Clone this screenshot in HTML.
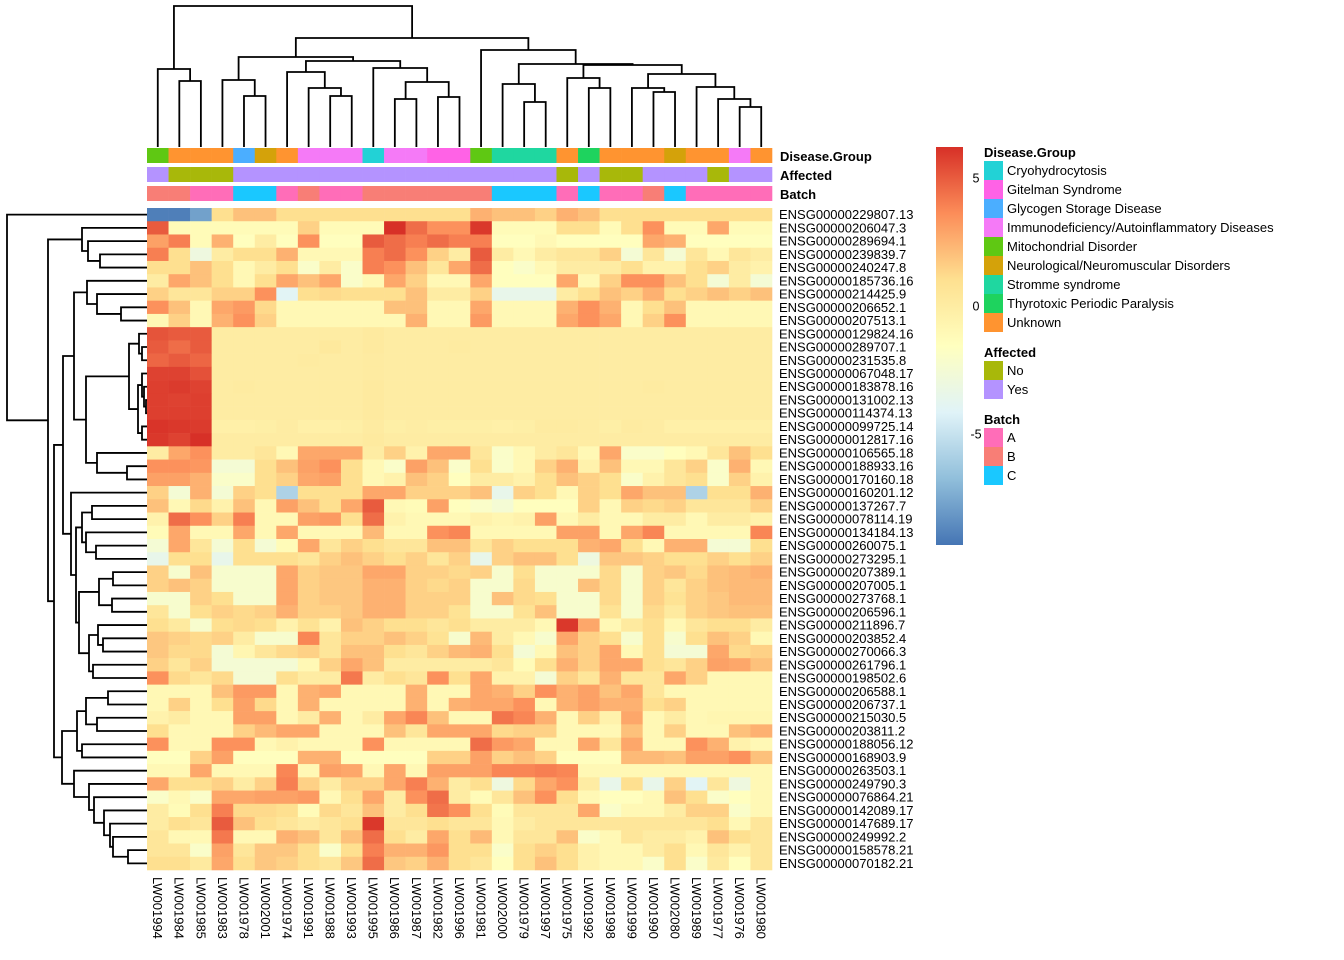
<!DOCTYPE html>
<html><head><meta charset="utf-8"><style>
html,body{margin:0;padding:0;background:#fff;}
svg{display:block;font-family:"Liberation Sans",Arial,sans-serif;}
</style></head><body>
<svg id="chart" width="1344" height="960" viewBox="0 0 1344 960" xmlns="http://www.w3.org/2000/svg">
<g id="dendro-col"></g>
<g id="dendro-row"></g>
<g id="annot"></g>
<g id="cells"></g>
<g id="rowlabels"></g>
<g id="collabels"></g>
<g id="legend"></g>
</svg>
<script>
const columns = ["LW001994","LW001984","LW001985","LW001983","LW001978","LW002001","LW001974","LW001991","LW001988","LW001993","LW001995","LW001986","LW001987","LW001982","LW001996","LW001981","LW002000","LW001979","LW001997","LW001975","LW001992","LW001998","LW001999","LW001990","LW002080","LW001989","LW001977","LW001976","LW001980"];
const genes = ["ENSG00000229807.13","ENSG00000206047.3","ENSG00000289694.1","ENSG00000239839.7","ENSG00000240247.8","ENSG00000185736.16","ENSG00000214425.9","ENSG00000206652.1","ENSG00000207513.1","ENSG00000129824.16","ENSG00000289707.1","ENSG00000231535.8","ENSG00000067048.17","ENSG00000183878.16","ENSG00000131002.13","ENSG00000114374.13","ENSG00000099725.14","ENSG00000012817.16","ENSG00000106565.18","ENSG00000188933.16","ENSG00000170160.18","ENSG00000160201.12","ENSG00000137267.7","ENSG00000078114.19","ENSG00000134184.13","ENSG00000260075.1","ENSG00000273295.1","ENSG00000207389.1","ENSG00000207005.1","ENSG00000273768.1","ENSG00000206596.1","ENSG00000211896.7","ENSG00000203852.4","ENSG00000270066.3","ENSG00000261796.1","ENSG00000198502.6","ENSG00000206588.1","ENSG00000206737.1","ENSG00000215030.5","ENSG00000203811.2","ENSG00000188056.12","ENSG00000168903.9","ENSG00000263503.1","ENSG00000249790.3","ENSG00000076864.21","ENSG00000142089.17","ENSG00000147689.17","ENSG00000249992.2","ENSG00000158578.21","ENSG00000070182.21"];
const diseaseGroup = ["Mito","Unknown","Unknown","Unknown","Glycogen","Neuro","Unknown","Immuno","Immuno","Immuno","Cryo","Immuno","Immuno","Gitelman","Gitelman","Mito","Stromme","Stromme","Stromme","Unknown","Thyro","Unknown","Unknown","Unknown","Neuro","Unknown","Unknown","Immuno","Unknown"];
const affected = ["Yes","No","No","No","Yes","Yes","Yes","Yes","Yes","Yes","Yes","Yes","Yes","Yes","Yes","Yes","Yes","Yes","Yes","No","Yes","No","No","Yes","Yes","Yes","No","Yes","Yes"];
const batch = ["B","B","A","A","C","C","A","B","A","A","B","B","B","B","B","B","C","C","C","A","C","A","A","B","C","A","A","A","A"];
const values = [
[-9,-9,-7.8,1,2,2,1,1,1,1,1,1,1,1,1,2.5,2,2,1.5,2.5,2,1,1,1,1,1,1,1,1],
[5,-1.2,-1.2,-1.2,-1.2,-1.2,-1.2,1.5,-1.2,-1.2,-1.2,6.5,4.5,3.5,3.5,6,-1.2,-1.2,-1.2,1,1,-1.2,1,3.5,-1.2,-1.2,2.8,-1.2,-1.2],
[3,4,-1.2,2.5,-1.5,0,-1.5,3.5,-1.5,-1.5,5,4.5,4,4.5,4,4,-1.5,-1.5,-1,-1.5,-1.5,-1.5,-1.5,2.8,2.5,-1.5,-1.5,-1.5,-1.5],
[4,1,-3,0,1,1,2.5,-1,-1,-1,4,4.5,3.5,1.5,0,5,0,-1,0,0.5,0.5,1.5,-2.5,0.5,-2.5,0.5,-1,0.5,0],
[1,1,2,1,-1,0,1,-2,0,-2,4,3.5,2,0.5,2.8,4.5,-1.5,-2,-1,0,0,0,1,-0.5,-0.5,1,1.5,0,-0.5],
[0,2.8,2,1,-1,1,2.8,2,2.8,-2,-1,2.8,1.5,-1,-1,2.8,-1.5,-1.5,-1.5,2.8,-1,1.5,3.5,3.5,2,1,-2.5,0,-2.5],
[1.5,0.5,0.5,1.5,1.5,3.5,-4,1,1.2,1,1,1,2,0,0,1.5,-3.5,-3.5,-3.5,0,1,2,1.5,2.5,1,1.5,2,1.5,2],
[3.5,2,-1,2.8,3.2,1.2,-1,-1,-1,-1,-1,2,2,-1,-1,2.8,-1,-1,-1,2.5,3.5,2.5,-1,1,2,-1,-1,-1,-1],
[-1,1.5,-1,2.5,3.5,1.5,-1,-1,-1,-1,-1,-1,2.5,-1,-1,3.2,-1,-1,-1,2.8,3.5,2.8,-1,1.5,3.5,-1,-1,-1,-1],
[5.2,5,5,0,0,0,0,0,0,0,0.2,0,0,0,0,0,0,0,0,0,0,0,0,0,0,0,0,0,0],
[5,4.5,5,0,0,0,0,0,0.3,0,0.2,0,0,0,0.1,0,0,0,0,0,0,0,0,0,0,0,0,0,0],
[4.7,5,4.7,0,0,0,0,0.1,0,0,0.1,0,0,0,0,0,0,0,0,0,0,0,0,0,0,0,0,0,0],
[5.7,5.7,5.3,0,0,0,0,0,0,0,0.1,0,0,0,0,0,0,0,0,0,0,0,0,0,0,0,0,0,0],
[5.8,5.9,5.7,0,0.1,0,0,0,0,0,0.2,0,0,0,0,0,0,0,0,0,0,0,0,0.1,0,0,0,0,0],
[5.8,5.7,5.8,0,0,0,0,0,0,0,0.2,0,0,0,0,0,0,0,0,0,0,0,0,0,0,0,0,0,0],
[5.8,5.8,5.8,0,0,0,0,0,0,0,0.2,0,0,0,0,0,0,0,0,0,0,0,0,0,0,0,0,0,0],
[6.1,6,5.9,-0.3,-0.3,-0.2,0,-0.3,-0.3,-0.2,0.1,-0.2,-0.1,-0.2,-0.2,-0.2,-0.3,-0.2,0.1,0.1,0,-0.2,0.1,0,-0.3,-0.3,-0.3,-0.3,-0.3],
[6,5.7,6.2,0,0,0,0,0,0,0,0.2,0,0,0,0,0,0,0,0,0,0,0,0,0,0,0,0,0,0],
[0,2.8,3.5,0,0,0.5,-1,2.8,2.8,2.8,0,1.5,-0.5,2.8,2.8,0.5,-2,-1,0,0.5,-1,2.8,-2,-2,-1.5,-1,0.5,2,1],
[3.5,3.5,3.3,-2.5,-2.5,1,2,3,3.5,1,-1,-2,3,2,-2,1,-2,-1,1.5,2.5,-0.5,2,-1,-1,0.5,1.5,-2,2.5,-1],
[3,3,2.5,-2,-2,1,1.5,2.8,3,1,-1,-0.5,2,1.5,-1.5,0,0,-0.5,1,2,1.5,1,-2,-0.5,0.5,1,-2,1.5,-0.5],
[1.5,-2.5,2.5,-2.5,1.5,1,-5.8,1,1,1,2.8,2.8,1.5,1.5,1.5,2,-3.5,1.5,1,-1,1.5,1,2.8,2,2,-5.8,1,1,2.5],
[2,-1,1.2,-0.5,2,-1,3,2,1,2.8,5,-1,-1.2,3,-1.5,-2,-2.5,-1.5,-1.5,-1.5,1.5,-1,1.5,1.2,1.5,0.5,0.5,0.5,1.5],
[-0.5,4.5,3.5,1.5,4,-1,-1,3,3.2,1,4.5,-0.5,-1,-1,-1,-0.5,-0.8,-0.5,3,-1,0,-1,-1,0,0,-1,0,0,-0.5],
[-1.2,2.8,-1,-1,2.8,-1,2.8,-1,-1,-1,2.2,-1,-1,3.5,3.8,-1,-1,-1,-1,3,3,-1,2.8,3.8,-1,-1,-1,-1,3.8],
[-2.5,2.8,0.5,-2.5,1,-2.5,-1.2,2.8,0.5,1.5,1,0.5,0.5,2,2,0.5,1.5,1,1,1,2.5,2.8,1,-1,2.5,2.5,-2.5,-2.5,1],
[-3.5,1,1,-3.5,1,1,1,0.5,1.5,2,1.5,1,1.5,0.5,1.5,-3.5,1.5,2,2,1,-3,1.8,1.8,1.5,1,1,1.5,1,1.5],
[1.5,-2.2,2,-2.2,-2.2,-2.2,2.8,1.5,1.8,1.8,2.8,2.8,1.5,1.5,1.2,1.5,-2.2,1,-2.2,-2.2,-2.2,1.2,-2.2,1.5,1.8,1.2,2,2.2,2.5],
[1.5,2,1.5,-2.2,-2.2,-2.2,2.8,1.5,1.8,1.8,2.5,2.5,1.5,1.2,1.5,-2.2,-2.2,1.2,-2.2,-2.2,2,1.2,-2.2,1.5,0.5,1.5,2,2.2,2.2],
[-2.2,-2.2,1.5,1,-2.2,-2.2,2.8,1.5,1.8,1.8,2.5,2.5,1.5,1.5,1.5,-2.2,2,1.2,1,-2.2,-2.2,1.2,-2.2,1.5,0.8,1.5,1.8,2.2,2.2],
[0.5,-2.2,1,1.5,1.2,1.5,2.5,1.5,1.5,1.8,2.5,2.5,1.5,1.5,0.8,-2.2,-2.2,0.8,2,-2.2,-2.2,0.8,-2.2,1.2,0.2,1.5,1.8,2,2],
[1,0.2,-2.2,1,1.2,1,-0.5,0.8,-0.5,2,1.5,1,1,0.5,1,0,0,0,-1,6,2.8,-1,0.2,1,-1,0.5,1,1,0],
[1.8,1.5,1.2,1.5,0,-2.2,-2.2,3.8,0.5,1.5,1.5,2,1.5,0.8,-2.2,2.2,0,-1,-2.2,2.8,1.5,1,-2.2,1,-2.2,1,2,1.5,-1],
[1.8,1.2,1.2,-2.5,-0.8,0.5,1.2,1.5,0.5,2,2,1,0.5,1.5,2.2,2.5,1,-2.5,-1,2,1.5,2.8,-1,1,-2.5,-2.5,2.8,1.2,1.5],
[1.5,0.5,1.5,-2.5,-2.5,-2.5,-2.5,-1,1.5,2.8,2,0,0,0,0,0,0.5,-1.2,1,2.5,1.5,2.8,2.8,1,0.5,1.5,3,2.8,2],
[3.5,1.2,0.5,1.2,-2.5,-2.5,1,0,0,4.2,0,1,0.5,3.5,1,2.8,-0.5,-0.5,-2.5,1.5,0.5,2.5,0.5,0.5,2.8,1.5,-1,-1,-1],
[-1,-1,-1,2,3.2,3.2,-1,2.5,2.8,-1,-1,-1,2.5,-1,-1,2.8,2.5,1.5,3.5,2.5,3,2,2.8,0.5,-1,-1,-1,-1,-1],
[-1,1.5,-1,1,3,1.2,-1,2.5,-1,-1,-1,-1,2.5,-1,2.5,2.8,2.8,3.5,-1,2.5,3,2.5,2.5,1,1.5,-1,-1,-1,-1],
[-0.5,0,-1,-1,3,3,-1,0,2.5,-1,0,2.8,3.8,2,-1,-1,4.3,3.8,2.5,-1,1.5,-0.5,2.8,-1,0,-1,-0.8,-0.8,-0.8],
[1,-1,-1,-1,1.5,2.2,2.8,2.8,-1,-1,-1,2,0.5,2.8,2.8,2.8,1.2,1.5,1.5,-1,-1,-1,2,-1,1.5,-1,-1,2,2.5],
[3.5,-1,-1,3.5,3.5,-1,-0.5,-1,-1,-1,3.5,-1,-1,-1,-1,4.5,3.2,2.8,-1,-1,2.8,0.5,2.8,-1,-1,3.5,2.5,-0.5,-1],
[-1.5,-1.5,1.5,3,-1.5,-1.5,-1.5,2.5,2.5,-1.5,-1.5,-1.5,-1.5,1.5,1.5,3,1.5,2,1.5,-1.5,-1.5,-1.5,2.2,2.2,2,3,3,3.5,2],
[-1,-1,2.8,-1,-1,-1,3.8,-1,3,2.8,-1,2.8,-1,3,3,3,3.8,3.8,4,3.8,-1,-1,-1,-1,-1,-1,-1,-1,-1],
[2.8,1,1,1.5,0,1.5,4,1.5,0,1.5,1.5,2.8,4,2.5,0,1,-3,1.2,2.8,3.5,0,-3.5,1,-3.5,1.5,-4,0.5,-3,-1],
[-2,-1,-2,2.8,2.8,3,3,3.2,-1,1,2.8,0,3.5,4.5,0,-1.2,0.5,2,3.5,1,-1,-1.5,-1.5,-1,2,1,-2,-1.5,-1],
[0,-1.2,1,4,1.2,1.2,1,-1.2,1.2,0.5,2,0,1,4.3,3.5,1,-1.2,0.5,0.5,0.5,2.8,-2,-1,-1,0,1.5,1.5,-2,-1],
[0,1,0.5,5,2,1,0.5,0,0.5,1,6,0.5,0.5,1,0.5,0.5,-1,0,0.5,0.5,0.5,0.5,0.5,0.5,0.5,0.5,1,-1,0.5],
[0.5,-1,-1,4.2,-1,-1,2.5,2,0.5,2,4.5,1,0,2.8,1,2.2,-1,0.5,0.5,2,-2,-1,0.5,0,0,-0.5,2,1,0.5],
[0.5,0.5,-2,3,0.5,1.8,1.8,1,-2,1,4,2.5,2.5,3.3,1,1,-2,1,1.5,1,-0.5,-1,-1,0,1,-1,0.5,-0.5,0.5],
[1,1,0.2,2.8,1,1.8,1.5,1,0.5,1.8,4.5,1.8,1.5,2.5,1,0.5,-1.5,1,2,1,-0.5,-1,-1,-2,1,-2,0.2,-1.5,0.5]
];
const scaleMin = -9.34, scaleMax = 6.21;
const scaleTicks = [5, 0, -5];
// dendrogram trees: [left, right, height(px)]
const colTree = [[0,[1,2,81],69],[[[3,[4,5,96],80],[[6,[7,[8,9,96],88],72],[10,[[11,12,99],[13,14,97],82],68],61],57],[15,[[16,[17,18,102],84],[[19,[20,21,88],78],[[22,[23,24,92],88],[25,[26,[27,28,107],99],87],74],65],64],50],38],6];
const rowTree = [0,[[1,[2,[3,4,100],88],82],[[[[5,[6,[7,8,121],97],87],[[[9,[10,11,142],139],[[12,[13,[14,15,146],144],142],[16,17,142],138],129],[18,[19,20,127],97],86],74],[21,[[[22,23,92],[24,[25,26,96],86],82],[[[27,28,113],[29,30,112],99],[[31,[32,33,103],98],[34,35,93],89],79],76],71],63],[[[[36,37,108],[38,39,97],86],[40,41,82],77],[42,[43,[44,[45,[46,[47,[48,49,128],113],110],104],94],89],74],62],54],48],7];

const NS = "http://www.w3.org/2000/svg";
const X0 = 147, X1 = 772, Y0 = 208, Y1 = 870;
const cw = (X1 - X0) / columns.length, rh = (Y1 - Y0) / genes.length;
const xCol = i => X0 + i * cw;
const yRow = i => Y0 + i * rh;
const stops = ["#4575B4","#91BFDB","#E0F3F8","#FFFFBF","#FEE090","#FC8D59","#D73027"].map(h => [parseInt(h.substr(1,2),16),parseInt(h.substr(3,2),16),parseInt(h.substr(5,2),16)]);
function colorOf(v){
  let t = (v - scaleMin) / (scaleMax - scaleMin);
  t = Math.max(0, Math.min(1, t)) * (stops.length - 1);
  const i = Math.min(stops.length - 2, Math.floor(t)), f = t - i;
  const c = stops[i].map((a, k) => Math.round(a + (stops[i+1][k] - a) * f));
  return `rgb(${c[0]},${c[1]},${c[2]})`;
}
function mk(tag, attrs, parent){
  const e = document.createElementNS(NS, tag);
  for (const k in attrs) e.setAttribute(k, attrs[k]);
  parent.appendChild(e); return e;
}
// cells
const cells = document.getElementById('cells');
values.forEach((row, r) => row.forEach((v, c) => {
  const el = mk('rect', {x: xCol(c).toFixed(2), y: yRow(r).toFixed(2), width: (cw+0.3).toFixed(2), height: (rh+0.3).toFixed(2), fill: colorOf(v)}, cells);
  
  
}));
// row labels
const rl = document.getElementById('rowlabels');
genes.forEach((g, r) => {
  const t = mk('text', {x: 779, y: (yRow(r) + rh/2 + 4.5).toFixed(1), 'font-size': 13, fill: '#000'}, rl);
  t.textContent = g;
  
  
});
// column labels
const cl = document.getElementById('collabels');
columns.forEach((c, i) => {
  const cx = xCol(i) + cw/2 - 4.6;
  const t = mk('text', {x: 0, y: 0, transform: `translate(${cx.toFixed(1)},877) rotate(90)`, 'font-size': 13, fill: '#000'}, cl);
  t.textContent = c;
  
  
});
// dendrograms
function drawTree(node, leafPos, leafH, g, vertical){
  if (typeof node === 'number') return [leafPos(node), leafH];
  const a = drawTree(node[0], leafPos, leafH, g, vertical);
  const b = drawTree(node[1], leafPos, leafH, g, vertical);
  const h = node[2];
  let d;
  if (vertical) d = `M${a[0]},${a[1]}V${h}H${b[0]}V${b[1]}`;
  else d = `M${a[1]},${a[0]}H${h}V${b[0]}H${b[1]}`;
  const p = mk('path', {d: d, fill: 'none', stroke: '#000', 'stroke-width': 1.8}, g);
  
  
  return [(a[0] + b[0]) / 2, h];
}
drawTree(colTree, i => xCol(i) + cw/2, 147, document.getElementById('dendro-col'), true);
drawTree(rowTree, i => yRow(i) + rh/2, 147, document.getElementById('dendro-row'), false);
// annotations
const dgColors = {Cryo:"#22D2D6",Gitelman:"#FF62E6",Glycogen:"#4BAEFF",Immuno:"#F57AF7",Mito:"#5FC813",Neuro:"#D4A20A",Stromme:"#1FD7A0",Thyro:"#1ED35E",Unknown:"#FF9430"};
const affColors = {No:"#A8B80A",Yes:"#B493FF"};
const batchColors = {A:"#FF6DB8",B:"#F87E76",C:"#1AC8FF"};
const an = document.getElementById('annot');
[[diseaseGroup, dgColors, 148, 'disease-group-cell'],[affected, affColors, 167, 'affected-cell'],[batch, batchColors, 186, 'batch-cell']].forEach(([arr, cols, y, nm]) => {
  arr.forEach((v, i) => {
    const el = mk('rect', {x: xCol(i).toFixed(2), y: y, width: (cw+0.3).toFixed(2), height: 15, fill: cols[v]}, an);
    
    
  });
});
[["Disease.Group",161],["Affected",180],["Batch",199]].forEach(([s,y]) => {
  const t = mk('text', {x: 780, y: y, 'font-size': 13, 'font-weight': 'bold'}, an);
  t.textContent = s;
  
  
});
// legend: color bar
const lg = document.getElementById('legend');
const defs = mk('defs', {}, lg);
const grad = mk('linearGradient', {id: 'cbar', x1: 0, y1: 1, x2: 0, y2: 0}, defs);
["#4575B4","#91BFDB","#E0F3F8","#FFFFBF","#FEE090","#FC8D59","#D73027"].forEach((c, i) => mk('stop', {offset: (i/6).toFixed(3), 'stop-color': c}, grad));
const CB0 = 147, CB1 = 545;
const cb = mk('rect', {x: 936, y: CB0, width: 27, height: CB1 - CB0, fill: 'url(#cbar)'}, lg);


const yScale = v => CB1 - (v - scaleMin) / (scaleMax - scaleMin) * (CB1 - CB0);
scaleTicks.forEach(v => {
  const t = mk('text', {x: 976, y: (yScale(v) + 4.5).toFixed(1), 'font-size': 12.5, 'text-anchor': 'middle'}, lg);
  t.textContent = String(v);
  
  
});
function legendBlock(title, ty, items){
  const t = mk('text', {x: 984, y: ty, 'font-size': 13, 'font-weight': 'bold'}, lg);
  t.textContent = title;
  
  
  items.forEach(([lab, col], i) => {
    const y = ty + 4 + i * 19;
    const r = mk('rect', {x: 984, y: y, width: 19, height: 19, fill: col}, lg);
    
    
    const tx = mk('text', {x: 1007, y: y + 14, 'font-size': 13}, lg);
    tx.textContent = lab;
    
    
  });
}
legendBlock("Disease.Group", 157, [["Cryohydrocytosis",dgColors.Cryo],["Gitelman Syndrome",dgColors.Gitelman],["Glycogen Storage Disease",dgColors.Glycogen],["Immunodeficiency/Autoinflammatory Diseases",dgColors.Immuno],["Mitochondrial Disorder",dgColors.Mito],["Neurological/Neuromuscular Disorders",dgColors.Neuro],["Stromme syndrome",dgColors.Stromme],["Thyrotoxic Periodic Paralysis",dgColors.Thyro],["Unknown",dgColors.Unknown]]);
legendBlock("Affected", 357, [["No",affColors.No],["Yes",affColors.Yes]]);
legendBlock("Batch", 424, [["A",batchColors.A],["B",batchColors.B],["C",batchColors.C]]);
</script>
</body></html>
